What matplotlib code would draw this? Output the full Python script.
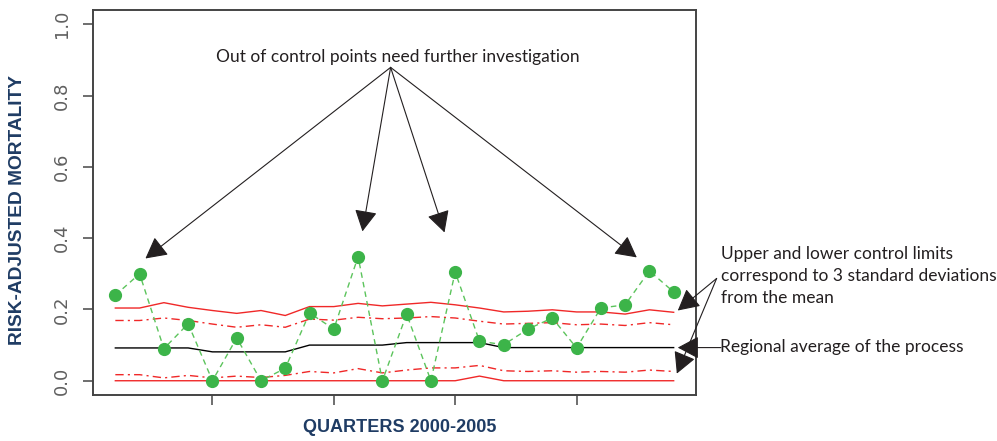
import numpy as np
import matplotlib
matplotlib.use('Agg')
import matplotlib.pyplot as plt

# quarters 2000-2005 (24 points)
quarters = np.arange(1, 25)
mortality = [0.24, 0.30, 0.09, 0.16, 0.00, 0.12, 0.00, 0.035, 0.19, 0.145, 0.348, 0.00,
             0.187, 0.00, 0.305, 0.111, 0.101, 0.145, 0.176, 0.092, 0.204, 0.213, 0.308, 0.249]
centre = [0.092, 0.092, 0.092, 0.092, 0.081, 0.081, 0.081, 0.081, 0.100, 0.100, 0.100, 0.100,
          0.107, 0.107, 0.107, 0.107, 0.093, 0.093, 0.093, 0.093, 0.093, 0.093, 0.093, 0.093]
ucl3 = [0.204, 0.204, 0.219, 0.206, 0.197, 0.189, 0.197, 0.183, 0.208, 0.208, 0.217, 0.210,
        0.215, 0.220, 0.213, 0.204, 0.193, 0.195, 0.199, 0.193, 0.193, 0.187, 0.199, 0.192]
ucl2 = [0.169, 0.169, 0.176, 0.169, 0.159, 0.150, 0.157, 0.150, 0.173, 0.170, 0.178, 0.174,
        0.176, 0.180, 0.176, 0.167, 0.159, 0.161, 0.163, 0.157, 0.159, 0.155, 0.163, 0.157]
lcl2 = [0.017, 0.017, 0.008, 0.015, 0.008, 0.013, 0.009, 0.015, 0.026, 0.022, 0.034, 0.022,
        0.030, 0.036, 0.036, 0.043, 0.028, 0.026, 0.028, 0.024, 0.026, 0.024, 0.030, 0.026]
lcl3 = [0.0] * 15 + [0.013] + [0.0] * 8
y_ticks = [0.0, 0.2, 0.4, 0.6, 0.8, 1.0]
x_ticks = [5, 10, 15, 20]

W, H = 997, 441
fig = plt.figure(figsize=(W / 100, H / 100), dpi=100)
ax = fig.add_axes([93 / W, 1 - 395 / H, (696 - 93) / W, (395 - 10) / H])

red = '#f02828'
ax.plot(quarters, ucl3, color=red, lw=1.0)
ax.plot(quarters, ucl2, color=red, lw=1.0, ls='-.', dashes=(6, 3, 1.5, 3))
ax.plot(quarters, lcl2, color=red, lw=1.0, ls='-.', dashes=(6, 3, 1.5, 3))
ax.plot(quarters, lcl3, color=red, lw=1.0)
ax.plot(quarters, centre, color='black', lw=1.0)
ax.plot(quarters, mortality, color='#5cc45c', lw=1.0, ls='--', dashes=(4, 3))
ax.plot(quarters, mortality, ls='none', marker='o', ms=8.5, color='#3cb449', mec='#3cb449')

ax.set_xlim(0.08, 24.92)
ax.set_ylim(-0.04, 1.04)
ax.set_xticks(x_ticks)
ax.set_xticklabels([])
ax.set_yticks(y_ticks)
ax.set_yticklabels(['%.1f' % v for v in y_ticks], rotation=90, va='center',
                   family='Liberation Sans Narrow', fontsize=13, color='#606060')
ax.tick_params(axis='both', length=7, width=1.2, color='#555555', pad=9)
for s in ax.spines.values():
    s.set_color('#444444')
    s.set_linewidth(1.4)

arrow = dict(arrowstyle='-|>,head_length=0.6,head_width=0.32', mutation_scale=22,
             lw=0.8, color='#231f20', shrinkA=0, shrinkB=0)
txt_font = dict(family='Lato', fontsize=12.5, color='#231f20')

origin = (12.34, 0.879)
for tip in [(2.24, 0.343), (11.18, 0.419), (14.56, 0.416), (22.48, 0.346)]:
    ax.annotate('', xy=tip, xytext=origin, arrowprops=arrow, annotation_clip=False)
fig.text(398 / W, 1 - 57 / H, 'Out of control points need further investigation',
         ha='center', va='center', **txt_font)

for tip in [(24.17, 0.197), (24.13, 0.020)]:
    ax.annotate('', xy=tip, xytext=(25.77, 0.287), arrowprops=arrow, annotation_clip=False)
ax.annotate('', xy=(24.17, 0.093), xytext=(25.95, 0.093), arrowprops=arrow,
            annotation_clip=False)
fig.text(721 / W, 1 - 276 / H,
         'Upper and lower control limits\ncorrespond to 3 standard deviations\nfrom the mean',
         ha='left', va='center', linespacing=1.45, **txt_font)
fig.text(720 / W, 1 - 347 / H, 'Regional average of the process',
         ha='left', va='center', **txt_font)

lab_font = dict(family='Liberation Sans', fontweight='bold', color='#1f3c64')
fig.text(18 / W, 1 - 210 / H, 'RISK-ADJUSTED MORTALITY', rotation=90,
         ha='center', va='center', fontsize=13.8, **lab_font)
fig.text(400 / W, 1 - 427 / H, 'QUARTERS 2000-2005', ha='center', va='center',
         fontsize=13, **lab_font)

fig.savefig('out.png', dpi=100)
